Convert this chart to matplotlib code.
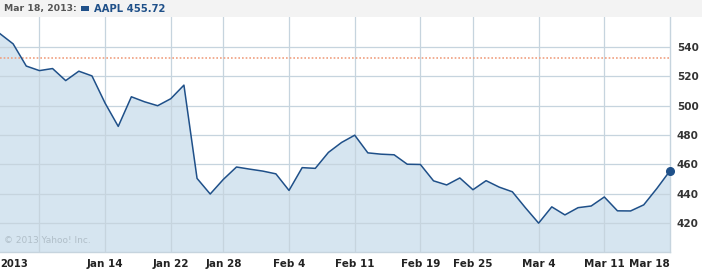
import matplotlib
matplotlib.use("Agg")
import matplotlib.pyplot as plt
from matplotlib.patches import Rectangle

dates = ["Jan 2", "Jan 3", "Jan 4", "Jan 7", "Jan 8", "Jan 9", "Jan 10", "Jan 11",
         "Jan 14", "Jan 15", "Jan 16", "Jan 17", "Jan 18", "Jan 22", "Jan 23", "Jan 24",
         "Jan 25", "Jan 28", "Jan 29", "Jan 30", "Jan 31", "Feb 1", "Feb 4", "Feb 5",
         "Feb 6", "Feb 7", "Feb 8", "Feb 11", "Feb 12", "Feb 13", "Feb 14", "Feb 15",
         "Feb 19", "Feb 20", "Feb 21", "Feb 22", "Feb 25", "Feb 26", "Feb 27", "Feb 28",
         "Mar 1", "Mar 4", "Mar 5", "Mar 6", "Mar 7", "Mar 8", "Mar 11", "Mar 12",
         "Mar 13", "Mar 14", "Mar 15", "Mar 18"]
close = [549.03, 542.10, 527.00, 523.90, 525.31, 517.10, 523.51, 520.30,
         501.75, 485.92, 506.09, 502.68, 500.00, 504.77, 514.01, 450.50,
         439.88, 449.83, 458.27, 456.83, 455.49, 453.62, 442.32, 457.84,
         457.35, 468.22, 474.98, 479.93, 467.90, 467.01, 466.59, 460.16,
         459.99, 448.85, 446.06, 450.81, 442.80, 448.97, 444.57, 441.40,
         430.47, 420.05, 431.14, 425.66, 430.58, 431.72, 437.87, 428.43,
         428.35, 432.50, 443.66, 455.72]
prev_close = 532.17
grid_dates = ["Jan 7", "Jan 14", "Jan 22", "Jan 28", "Feb 4", "Feb 11", "Feb 19",
              "Feb 25", "Mar 4", "Mar 11"]
label_dates = ["Jan 14", "Jan 22", "Jan 28", "Feb 4", "Feb 11", "Feb 19",
               "Feb 25", "Mar 4", "Mar 11"]
y_ticks = [420, 440, 460, 480, 500, 520, 540]

W, H = 702, 269
fig = plt.figure(figsize=(W / 100, H / 100), dpi=100)
fig.patch.set_facecolor("white")

# header band
fig.patches.append(Rectangle((0, (H - 17) / H), 1, 17 / H, transform=fig.transFigure,
                             facecolor="#f3f3f3", edgecolor="none", zorder=0))

ax = fig.add_axes([0, (H - 252) / H, 670 / W, (252 - 17) / H])
x = list(range(len(close)))
line_c = "#1f5089"
grid_c = "#c6d4de"
ax.fill_between(x, close, 300, color="#d6e5f0", zorder=1, linewidth=0)
ax.plot(x, close, color=line_c, lw=1.1, zorder=4)
ax.plot([x[-1]], [close[-1]], "o", color=line_c, ms=5.5, zorder=5, clip_on=False)
ax.axhline(prev_close, color="#f0a080", lw=1.2, ls=(0, (1, 1.2)), zorder=3)

ax.set_xlim(0, len(close) - 1)
ax.set_ylim(400.4, 560.4)
for t in y_ticks:
    ax.axhline(t, color=grid_c, lw=0.9, zorder=2)
for d in grid_dates:
    ax.axvline(dates.index(d), color=grid_c, lw=0.9, zorder=2)

for s in ["left", "top"]:
    ax.spines[s].set_visible(False)
for s in ["right", "bottom"]:
    ax.spines[s].set_color(grid_c)
    ax.spines[s].set_linewidth(1.0)

ax.set_xticks([])
ax.yaxis.tick_right()
ax.set_yticks(y_ticks)
ax.set_yticklabels([str(t) for t in y_ticks], fontweight="bold", fontsize=7.5,
                   color="#333333")
ax.tick_params(axis="y", length=0, pad=5)

fs = 7.5
ax.text(0, -0.03, "2013", transform=ax.get_xaxis_transform(), ha="left", va="top",
        fontsize=7.2, fontweight="bold", color="#222222")
for d in label_dates:
    ax.text(dates.index(d), -0.03, d, transform=ax.get_xaxis_transform(),
            ha="center", va="top", fontsize=fs, fontweight="bold", color="#222222")
ax.text(len(close) - 1, -0.03, dates[-1], transform=ax.get_xaxis_transform(),
        ha="right", va="top", fontsize=fs, fontweight="bold", color="#222222")

ax.text(0.006, 0.03, "\u00a9 2013 Yahoo! Inc.", transform=ax.transAxes, ha="left",
        va="bottom", fontsize=6.5, color="#b0bec8")

# header
hy = (H - 8.5) / H
fs_h = 6.7
fig.text(4 / W, hy, "Mar 18, 2013:", ha="left", va="center", fontsize=fs_h,
         fontweight="bold", color="#555555")
fig.patches.append(Rectangle((81 / W, (H - 11) / H), 8 / W, 5 / H,
                             transform=fig.transFigure, facecolor=line_c,
                             edgecolor="none"))
fig.text(94 / W, hy, "AAPL 455.72", ha="left", va="center", fontsize=7.2,
         fontweight="bold", color=line_c)

fig.savefig("out.png", dpi=100)
